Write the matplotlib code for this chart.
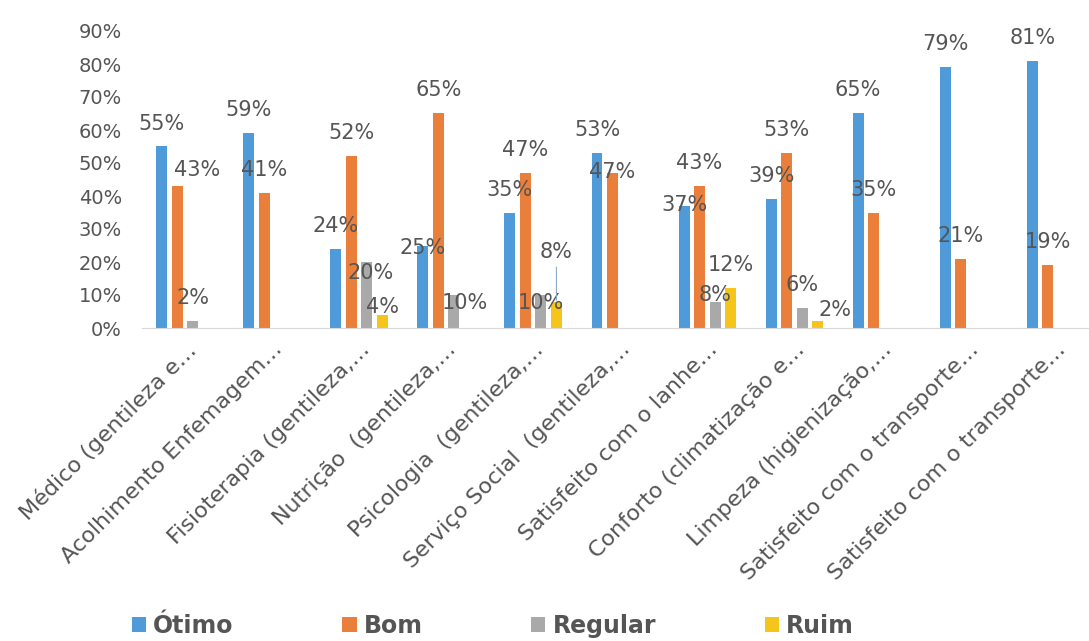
import matplotlib.pyplot as plt
import numpy as np
from matplotlib.ticker import PercentFormatter

plt.rcParams['font.family'] = ['DejaVu Sans']

categories = [
    'Médico (gentileza e…',
    'Acolhimento Enfemagem…',
    'Fisioterapia (gentileza,…',
    'Nutrição  (gentileza,…',
    'Psicologia  (gentileza,…',
    'Serviço Social  (gentileza,…',
    'Satisfeito com o lanhe…',
    'Conforto (climatização e…',
    'Limpeza (higienização,…',
    'Satisfeito com o transporte…',
    'Satisfeito com o transporte…',
]
series = ['Ótimo', 'Bom', 'Regular', 'Ruim']
otimo = [55, 59, 24, 25, 35, 53, 37, 39, 65, 79, 81]
bom = [43, 41, 52, 65, 47, 47, 43, 53, 35, 21, 19]
regular = [2, 0, 20, 10, 10, 0, 8, 6, 0, 0, 0]
ruim = [0, 0, 4, 0, 8, 0, 12, 2, 0, 0, 0]

colors = ['#4f9ad8', '#e97f3a', '#a9a9a9', '#f5c51c']
text_color = '#555555'

# label placement tweaks (pixels), default is centred above the bar
label_offset = {
    (0, 1): (20, 16), (2, 2): (4, -11), (2, 3): (0, 8), (3, 0): (0, -3),
    (3, 2): (11, -8), (4, 2): (0, -8), (4, 3): (0, 50), (5, 1): (0, 1),
    (6, 0): (0, 1), (6, 2): (0, 7), (7, 3): (17, 11),
}

data = np.array([otimo, bom, regular, ruim])
x = np.arange(len(categories))
width = 0.126
step = 0.178

fig = plt.figure(figsize=(10.89, 6.41), dpi=100)
ax = fig.add_axes([141.5 / 1089, 1 - 328 / 641, (1089 - 141.5) / 1089, (328 - 31) / 641])

for j, name in enumerate(series):
    pos = x + (j - 1.5) * step
    ax.bar(pos, data[j], width, color=colors[j], label=name, zorder=2)
    for i in range(len(categories)):
        v = data[j, i]
        if v == 0:
            continue
        dx, dy = label_offset.get((i, j), (0, 23))
        arrow = None
        if (i, j) == (4, 3):
            arrow = dict(arrowstyle='-', color='#8fa9c8', lw=0.8, shrinkA=2, shrinkB=1)
        ax.annotate(f'{v}%', (pos[i], v), xytext=(dx, dy), textcoords='offset pixels',
                    ha='center', va='center', fontsize=15, color=text_color,
                    arrowprops=arrow, zorder=3)

ax.set_xlim(-0.5, (1089 - 185.5) / 87)
ax.set_ylim(0, 90)
ax.set_yticks(np.arange(0, 91, 10))
ax.yaxis.set_major_formatter(PercentFormatter(100, decimals=0))
ax.tick_params(axis='y', length=0, pad=14, labelsize=14, labelcolor=text_color)
ax.set_xticks(x)
ax.set_xticklabels(categories, rotation=45, ha='right', rotation_mode='anchor')
ax.tick_params(axis='x', length=0, pad=8, labelsize=16, labelcolor=text_color)

for s in ['top', 'right', 'left']:
    ax.spines[s].set_visible(False)
ax.spines['bottom'].set_color('#d9d9d9')

fig.legend(loc='center left', bbox_to_anchor=(132 / 1089, 1 - 626 / 641), ncol=4,
           frameon=False, borderaxespad=0, borderpad=0, handlelength=0.6, handleheight=0.6,
           handletextpad=0.3, columnspacing=4.6,
           prop={'size': 17, 'weight': 'bold'}, labelcolor=text_color)

fig.savefig('out.png', dpi=100)
